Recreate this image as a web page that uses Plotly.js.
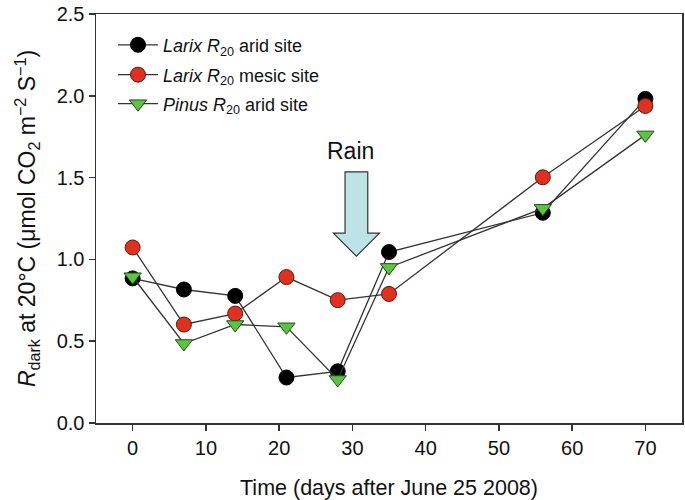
<!DOCTYPE html>
<html>
<head>
<meta charset="utf-8">
<script src="https://cdn.plot.ly/plotly-3.0.1.min.js"></script>
<style>html,body{margin:0;padding:0;background:#fff;}#chart{width:685px;height:500px;}</style>
</head>
<body>
<div id="chart"></div>
<script>
const days = [0, 7, 14, 21, 28, 35, 56, 70];
const larixArid = [0.884, 0.816, 0.777, 0.278, 0.316, 1.045, 1.285, 1.981];
const larixMesic = [1.073, 0.602, 0.669, 0.892, 0.751, 0.789, 1.502, 1.938];
const pinusArid = [0.894, 0.486, 0.602, 0.588, 0.266, 0.951, 1.312, 1.761];
const seriesNames = [
  '<i>Larix R</i><sub>20</sub> arid site',
  '<i>Larix R</i><sub>20</sub> mesic site',
  '<i>Pinus R</i><sub>20</sub> arid site'
];
const rainLabel = 'Rain';
const xTitle = 'Time (days after June 25 2008)';
const yTitle = '<i>R</i><sub>dark</sub> at 20°C (μmol CO<sub>2</sub> m<sup>−2</sup> S<sup>−1</sup>)';

const fam = 'Liberation Sans, Arial, sans-serif';
const lineStyle = {color: '#333333', width: 1.3};
const traces = [
  {x: days, y: larixArid, name: seriesNames[0], legend: 'legend', mode: 'lines+markers', line: lineStyle,
   marker: {symbol: 'circle', size: 15, color: '#000000', line: {color: '#000000', width: 1}}},
  {x: days, y: larixMesic, name: seriesNames[1], legend: 'legend2', mode: 'lines+markers', line: lineStyle,
   marker: {symbol: 'circle', size: 15, color: '#e0301e', line: {color: '#5a1a10', width: 1}}},
  {x: days, y: pinusArid, name: seriesNames[2], legend: 'legend3', mode: 'lines+markers', line: lineStyle,
   marker: {symbol: 'triangle-down', size: 15, color: '#5cc443', line: {color: '#1f4f18', width: 1}}}
];

function legendAt(yv) {
  return {x: 0.029, y: yv, xanchor: 'left', yanchor: 'middle', bgcolor: 'rgba(0,0,0,0)',
          font: {size: 18, family: fam, color: '#111'}, itemwidth: 40};
}

const layout = {
  width: 685, height: 500,
  margin: {l: 96, r: 3, t: 14, b: 77},
  paper_bgcolor: '#fff', plot_bgcolor: '#fff',
  font: {family: fam, color: '#111', size: 18},
  showlegend: true,
  legend: legendAt(0.924),
  legend2: legendAt(0.851),
  legend3: legendAt(0.780),
  xaxis: {
    range: [-5, 75], dtick: 10, tick0: 0,
    showgrid: false, zeroline: false,
    showline: true, linecolor: '#333', linewidth: 1.5, mirror: true,
    ticks: 'outside', ticklen: 6, tickwidth: 1.5, tickcolor: '#333',
    tickfont: {size: 20, family: fam, color: '#111'},
    title: {text: xTitle, font: {size: 21.5, family: fam, color: '#111'}, standoff: 22}
  },
  yaxis: {
    range: [0, 2.5], dtick: 0.5, tick0: 0, tickformat: '.1f',
    showgrid: false, zeroline: false,
    showline: true, linecolor: '#333', linewidth: 1.5, mirror: true,
    ticks: 'outside', ticklen: 6, tickwidth: 1.5, tickcolor: '#333',
    tickfont: {size: 20, family: fam, color: '#111'},
    title: {text: yTitle, font: {size: 23, family: fam, color: '#111'}, standoff: 14}
  },
  shapes: [{
    type: 'path', xref: 'x', yref: 'y',
    path: 'M 29.0,1.535 L 32.1,1.535 L 32.1,1.16 L 33.7,1.16 L 30.55,1.02 L 27.4,1.16 L 29.0,1.16 Z',
    fillcolor: '#bde3e6', line: {color: '#333', width: 1.2}, layer: 'above'
  }],
  annotations: [{
    x: 29.7, y: 1.66, xref: 'x', yref: 'y', text: rainLabel, showarrow: false,
    font: {size: 23, family: fam, color: '#111'}
  }]
};
Plotly.newPlot('chart', traces, layout, {displayModeBar: false, staticPlot: true});
</script>
</body>
</html>
